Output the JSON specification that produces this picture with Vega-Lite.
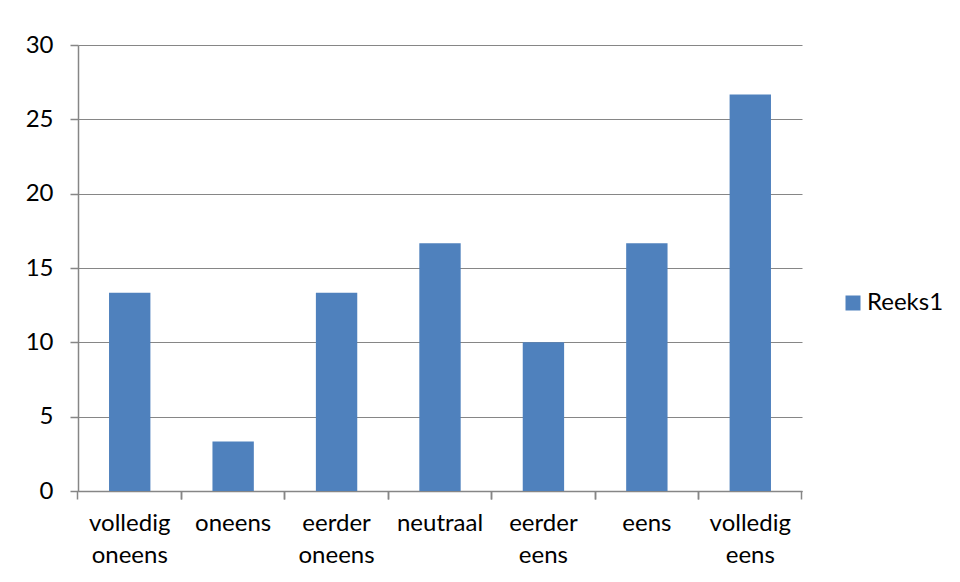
{
  "$schema": "https://vega.github.io/schema/vega-lite/v6.json",
  "width": 724,
  "height": 446,
  "autosize": {"type": "none"},
  "padding": {"left": 78, "top": 45, "right": 158, "bottom": 91},
  "background": "white",
  "data": {
    "values": [
      {"categorie": "volledig oneens", "waarde": 13.33, "reeks": "Reeks1"},
      {"categorie": "oneens", "waarde": 3.33, "reeks": "Reeks1"},
      {"categorie": "eerder oneens", "waarde": 13.33, "reeks": "Reeks1"},
      {"categorie": "neutraal", "waarde": 16.67, "reeks": "Reeks1"},
      {"categorie": "eerder eens", "waarde": 10.0, "reeks": "Reeks1"},
      {"categorie": "eens", "waarde": 16.67, "reeks": "Reeks1"},
      {"categorie": "volledig eens", "waarde": 26.67, "reeks": "Reeks1"}
    ]
  },
  "layer": [
    {
      "mark": {"type": "bar"},
      "encoding": {
        "x": {
          "field": "categorie",
          "type": "nominal",
          "sort": null,
          "scale": {"paddingInner": 0.6, "paddingOuter": 0.3},
          "axis": {
            "title": null,
            "orient": "bottom",
            "labelAngle": 0,
            "labelExpr": "split(datum.label, ' ')",
            "bandPosition": -0.75,
            "tickSize": 8,
            "labelPadding": 12,
            "labelLineHeight": 32,
            "grid": false
          }
        },
        "y": {
          "field": "waarde",
          "type": "quantitative",
          "scale": {"domain": [0, 30], "nice": false},
          "axis": {
            "title": null,
            "values": [0, 5, 10, 15, 20, 25, 30],
            "tickSize": 8,
            "labelPadding": 17,
            "grid": true
          }
        },
        "color": {
          "field": "reeks",
          "type": "nominal",
          "scale": {"range": ["#4F81BD"]},
          "legend": {
            "title": null,
            "orient": "none",
            "legendX": 763,
            "legendY": 246,
            "symbolType": "square",
            "symbolSize": 225,
            "symbolStrokeWidth": 0,
            "labelFontSize": 24,
            "labelColor": "#000000",
            "labelFont": "Lato",
            "labelOffset": 2
          }
        }
      }
    },
    {
      "mark": {"type": "bar", "opacity": 0},
      "encoding": {
        "x": {
          "field": "categorie",
          "type": "nominal",
          "sort": null,
          "axis": {
            "title": null,
            "orient": "bottom",
            "labels": false,
            "domain": false,
            "bandPosition": 1.75,
            "tickSize": 8,
            "grid": false
          }
        },
        "y": {"field": "waarde", "type": "quantitative"}
      }
    }
  ],
  "resolve": {"axis": {"x": "independent"}},
  "config": {
    "view": {"stroke": null},
    "axis": {
      "domainColor": "#868686",
      "tickColor": "#868686",
      "gridColor": "#868686",
      "domainWidth": 1.5,
      "tickWidth": 1.5,
      "gridWidth": 1,
      "labelFont": "Lato",
      "labelFontSize": 24,
      "labelColor": "#000000"
    }
  }
}
